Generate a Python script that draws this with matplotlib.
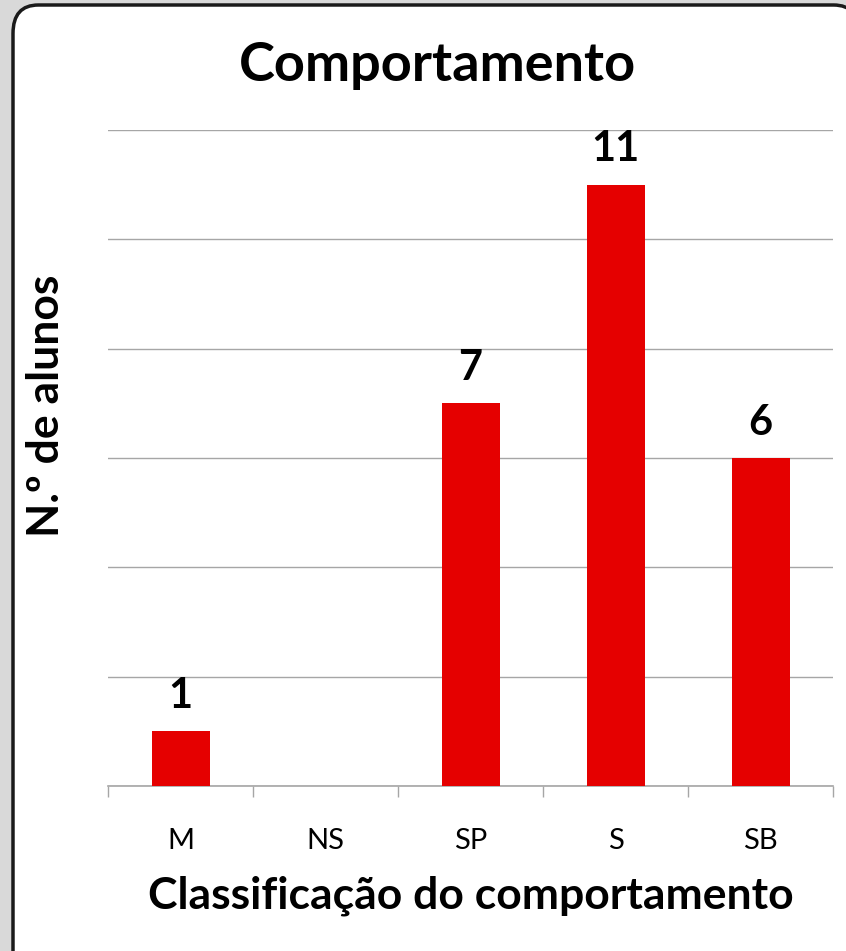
import matplotlib.pyplot as plt
import matplotlib
from matplotlib.patches import FancyBboxPatch
import numpy as np

matplotlib.rcParams['font.family'] = ['Lato', 'DejaVu Sans']

# dados
categorias = ['M', 'NS', 'SP', 'S', 'SB']
alunos = [1, 0, 7, 11, 6]

fig = plt.figure(figsize=(8.46, 9.51), dpi=100)
fig.patch.set_facecolor('#d9d9d9')

# caixa branca com cantos arredondados
caixa = FancyBboxPatch((13 / 846, -0.05), 1.0, 1.05 - 5 / 951,
                       boxstyle='round,pad=0,rounding_size=0.03',
                       transform=fig.transFigure, facecolor='white',
                       edgecolor='#1a1a1a', linewidth=2.5, zorder=-10)
fig.patches.append(caixa)

ax = fig.add_axes([108 / 846, 1 - 786 / 951, (833 - 108) / 846, (786 - 130) / 951])
ax.set_facecolor('none')
ax.set_zorder(5)

x = np.arange(len(categorias))
ax.bar(x, alunos, width=0.4, color='#e50000', zorder=3)

for xi, v in zip(x, alunos):
    if v > 0:
        ax.text(xi, v + 0.3, str(v), ha='center', va='bottom',
                fontsize=30, fontweight='bold', color='black')

ax.set_ylim(0, 12)
ax.set_xlim(-0.5, 4.5)
ax.set_yticks(np.arange(0, 13, 2))
ax.yaxis.grid(True, color='#a6a6a6', linewidth=1)
ax.set_axisbelow(True)
ax.tick_params(axis='y', left=False, labelleft=False)

ax.set_xticks(x)
ax.set_xticklabels(categorias, fontsize=21)
ax.tick_params(axis='x', length=0, pad=30)
ax.set_xticks(np.arange(-0.5, 5, 1), minor=True)
ax.tick_params(axis='x', which='minor', length=8, color='#a6a6a6', width=1)

for s in ['top', 'right', 'left']:
    ax.spines[s].set_visible(False)
ax.spines['bottom'].set_color('#a6a6a6')
ax.spines['bottom'].set_linewidth(1.2)

ax.set_xlabel('Classificação do comportamento', fontsize=32, fontweight='bold', labelpad=16)
ax.set_ylabel('N.º de alunos', fontsize=32, fontweight='bold')
ax.yaxis.set_label_coords(-0.058, 0.58)
fig.text(437 / 846, 1 - 65 / 951, 'Comportamento', ha='center', va='center',
         fontsize=39, fontweight='bold')

fig.savefig('out.png', dpi=100, facecolor=fig.get_facecolor())
